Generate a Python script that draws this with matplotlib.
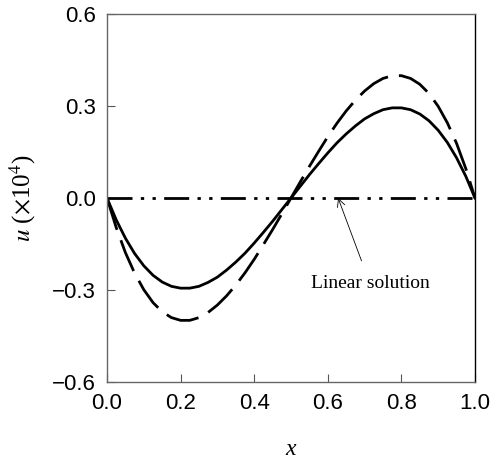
import matplotlib
matplotlib.use("Agg")
import matplotlib.pyplot as plt

plt.rcParams['mathtext.fontset'] = 'stix'

# values (first half; second half mirrors with sign flip)
x_half = [0.0, 0.025, 0.05, 0.075, 0.1, 0.125, 0.15, 0.175, 0.2, 0.225, 0.25,
          0.275, 0.3, 0.325, 0.35, 0.375, 0.4, 0.425, 0.45, 0.475, 0.5]
u_solid_half = [0.0, -0.071, -0.131, -0.181, -0.221, -0.252, -0.274, -0.288, -0.294, -0.294, -0.288,
                -0.275, -0.258, -0.235, -0.209, -0.180, -0.147, -0.112, -0.076, -0.038, 0.0]
u_dash_half = [0.0, -0.096, -0.178, -0.245, -0.299, -0.341, -0.371, -0.390, -0.399, -0.399, -0.390,
               -0.373, -0.349, -0.319, -0.284, -0.244, -0.200, -0.152, -0.103, -0.052, 0.0]

x = x_half + [round(1 - v, 3) for v in x_half[::-1][1:]]
u_solid = u_solid_half + [-v for v in u_solid_half[::-1][1:]]
u_dash = u_dash_half + [-v for v in u_dash_half[::-1][1:]]
x_lin = [0.0, 1.0]
u_lin = [0.0, 0.0]

xticks = [0.0, 0.2, 0.4, 0.6, 0.8, 1.0]
yticks = [-0.6, -0.3, 0.0, 0.3, 0.6]

fig = plt.figure(figsize=(4.94, 4.68), dpi=100)
ax = fig.add_axes([0.2166, 0.1838, 0.7449, 0.7862])

ax.plot(x, u_dash, color='black', lw=2.0, dashes=(12, 4))
ax.plot(x, u_solid, color='black', lw=2.0)
ax.plot(x_lin, u_lin, color='black', lw=2.0, dashes=(9, 3, 1.2, 3, 1.2, 3))

ax.set_xlim(0, 1)
ax.set_ylim(-0.6, 0.6)
ax.set_xticks(xticks)
ax.set_yticks(yticks)
ax.set_xticklabels(['%.1f' % t for t in xticks], fontfamily='Liberation Sans', fontsize=16)
ax.set_yticklabels([('\u2212%.1f' % -t) if t < 0 else '%.1f' % t for t in yticks],
                   fontfamily='Liberation Sans', fontsize=16)
ax.tick_params(direction='in', length=6, width=0.8, color='#555555', pad=8)

for s in ['left', 'bottom', 'top']:
    ax.spines[s].set_color('#666666')
ax.spines['right'].set_color('black')
for s in ax.spines.values():
    s.set_linewidth(1.0)

ax.set_xlabel('x', fontfamily='Liberation Serif', fontstyle='italic', fontsize=17, labelpad=18)
ax.set_ylabel(r'$u$ ($\times$10$^4$)', fontfamily='Liberation Serif', fontsize=18, labelpad=10)

ax.annotate('Linear solution', xy=(0.628, 0.0), xytext=(0.715, -0.28),
            fontfamily='Liberation Serif', fontsize=14, ha='center', va='center',
            arrowprops=dict(arrowstyle='->', color='black', lw=0.6,
                            shrinkA=9, shrinkB=0))

fig.savefig('out.png', dpi=100)
